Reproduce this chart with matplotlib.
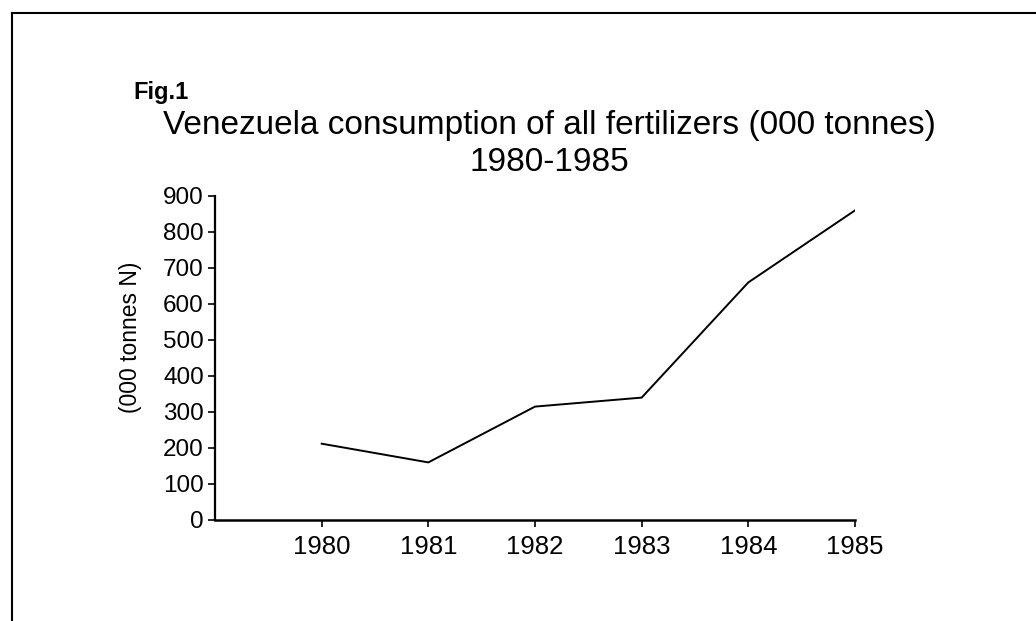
import matplotlib
matplotlib.use('Agg')
import matplotlib.pyplot as plt
from matplotlib.lines import Line2D

# data
years = [1980, 1981, 1982, 1983, 1984, 1985]
consumption = [212, 160, 315, 340, 660, 860]
y_ticks = [0, 100, 200, 300, 400, 500, 600, 700, 800, 900]

fig_title = 'Venezuela consumption of all fertilizers (000 tonnes)\n1980-1985'
fig_label = 'Fig.1'
y_label = '(000 tonnes N)'

plt.rcParams['font.family'] = ['Liberation Sans', 'DejaVu Sans']

W, H = 1036, 621
fig = plt.figure(figsize=(W / 100, H / 100), dpi=100)

# axes box in pixel terms of the scan
left, right, bottom, top = 215, 855, 520, 196
ax = fig.add_axes([left / W, 1 - bottom / H, (right - left) / W, (bottom - top) / H])

ax.plot(years, consumption, color='black', lw=1.4)
ax.set_xlim(1979, 1985)
ax.set_ylim(0, 900)
ax.set_xticks(years)
ax.set_yticks(y_ticks)
ax.tick_params(axis='x', labelsize=18.5, length=5, width=1.2, direction='out', pad=6)
ax.tick_params(axis='y', labelsize=17.5, length=5, width=1.2, direction='out', pad=3)
ax.spines['top'].set_visible(False)
ax.spines['right'].set_visible(False)
ax.spines['left'].set_linewidth(1.6)
ax.spines['bottom'].set_linewidth(1.8)
ax.set_ylabel(y_label, fontsize=16.5)
ax.yaxis.set_label_coords((131 - left) / (right - left), (bottom - 337) / (bottom - top))
ax.yaxis.label.set_va('center')

# titles
fig.text(133 / W, 1 - 92 / H, fig_label, fontsize=17, fontweight='bold', va='center', ha='left')
fig.text(549 / W, 1 - 144 / H, fig_title, fontsize=24, ha='center', va='center',
         linespacing=1.22)

# scan frame (left and top edges visible)
fig.add_artist(Line2D([12 / W, 1.0], [1 - 13 / H, 1 - 13 / H], transform=fig.transFigure,
                      color='black', lw=1.5))
fig.add_artist(Line2D([12 / W, 12 / W], [0.0, 1 - 13 / H], transform=fig.transFigure,
                      color='black', lw=1.5))

fig.savefig('out.png', dpi=100)
